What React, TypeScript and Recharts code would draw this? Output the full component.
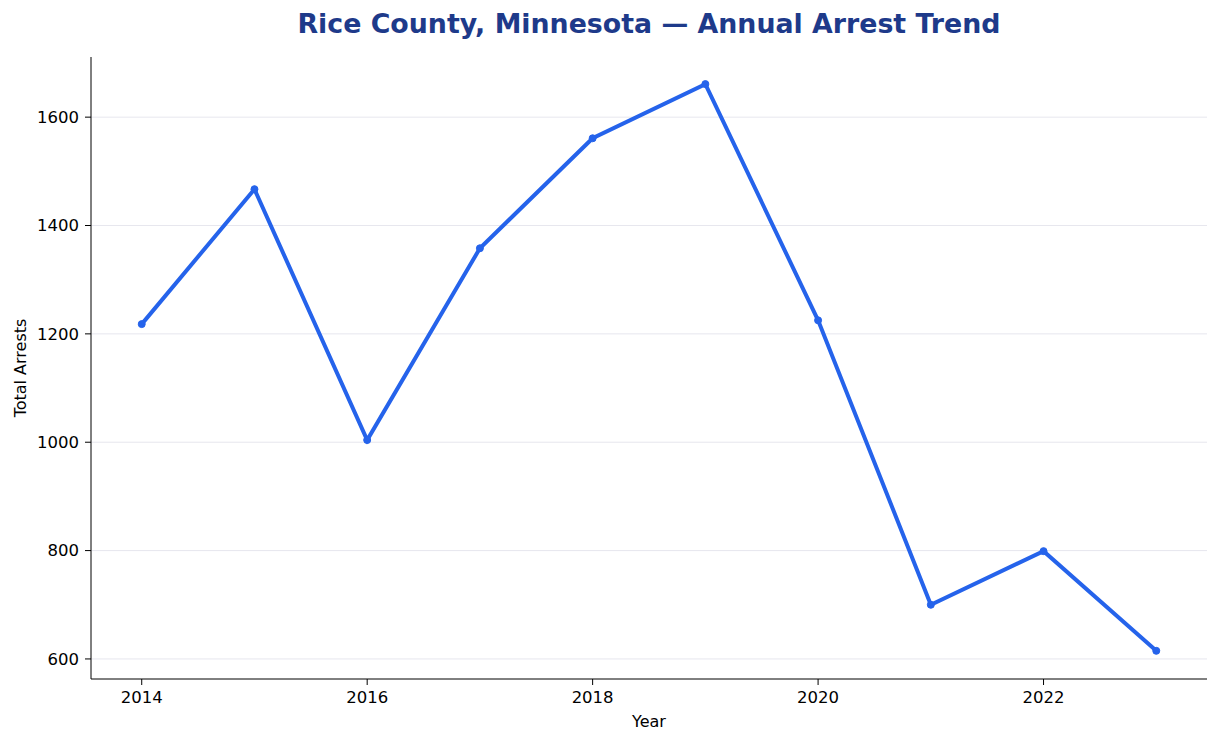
import {
	LineChart,
	Line,
	XAxis,
	YAxis,
	CartesianGrid,
	Label,
} from 'recharts'

const years = [2014, 2015, 2016, 2017, 2018, 2019, 2020, 2021, 2022, 2023]
const arrests = [1218, 1467, 1004, 1358, 1561, 1661, 1225, 700, 799, 615]
const yearTicks = [2014, 2016, 2018, 2020, 2022]
const arrestTicks = [600, 800, 1000, 1200, 1400, 1600]

const data = years.map((year, i) => ({ year, arrests: arrests[i] }))

const font = 'DejaVu Sans'
const blue = '#2563eb'

const YTitle = ({ viewBox }: any) => {
	const cx = viewBox.x - 11
	const cy = viewBox.y + viewBox.height / 2
	return (
		<text
			x={0}
			y={0}
			transform={`translate(${cx},${cy}) rotate(-90)`}
			textAnchor='middle'
			dominantBaseline='central'
			fontFamily={font}
			fontSize={16}
			fill='#000'
		>
			Total Arrests
		</text>
	)
}

const XTitle = ({ viewBox }: any) => (
	<text
		x={viewBox.x + viewBox.width / 2}
		y={721}
		textAnchor='middle'
		dominantBaseline='central'
		fontFamily={font}
		fontSize={16}
		fill='#000'
	>
		Year
	</text>
)

const App = () => {
	return (
		<div
			style={{
				position: 'absolute',
				left: 0,
				top: 0,
				width: 1219,
				height: 743,
				background: '#fff',
			}}
		>
			<div
				style={{
					position: 'absolute',
					left: 91,
					width: 1116,
					top: 7,
					textAlign: 'center',
					fontFamily: font,
					fontWeight: 'bold',
					fontSize: 26.8,
					color: '#1e3a8a',
					lineHeight: '34px',
				}}
			>
				Rice County, Minnesota — Annual Arrest Trend
			</div>
			<LineChart
				width={1219}
				height={743}
				data={data}
				margin={{ top: 57, right: 12, bottom: 24, left: 31 }}
			>
				<CartesianGrid
					vertical={false}
					horizontalValues={arrestTicks}
					stroke='#e7e7ee'
					strokeWidth={1}
				/>
				<XAxis
					dataKey='year'
					type='number'
					domain={[2013.55, 2023.45]}
					ticks={yearTicks}
					allowDataOverflow
					height={40}
					tickSize={6}
					tickMargin={6}
					stroke='#000'
					tick={{ fill: '#000', fontSize: 16.5, fontFamily: font }}
				>
					<Label content={<XTitle />} />
				</XAxis>
				<YAxis
					type='number'
					domain={[563, 1711]}
					ticks={arrestTicks}
					allowDataOverflow
					width={60}
					tickSize={6}
					tickMargin={6}
					stroke='#000'
					tick={{ fill: '#000', fontSize: 16.5, fontFamily: font }}
				>
					<Label content={<YTitle />} />
				</YAxis>
				<Line
					type='linear'
					dataKey='arrests'
					stroke={blue}
					strokeWidth={4}
					dot={{ r: 3.5, fill: blue, stroke: blue, strokeWidth: 1 }}
					activeDot={false}
					isAnimationActive={false}
				/>
			</LineChart>
		</div>
	)
}

export default App
